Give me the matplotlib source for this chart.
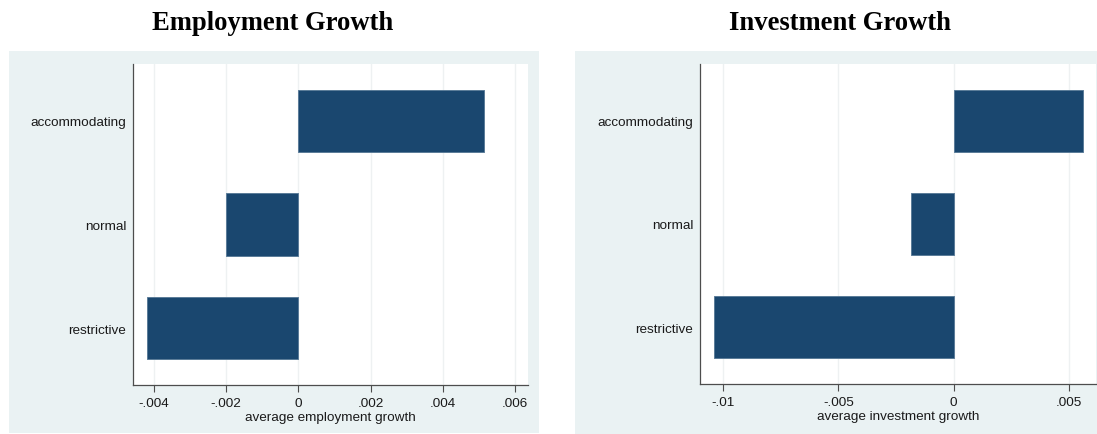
import matplotlib
matplotlib.use("Agg")
import matplotlib.pyplot as plt
from matplotlib.patches import Rectangle

categories = ["accommodating", "normal", "restrictive"]
employment_growth = [0.00514, -0.00201, -0.00419]
investment_growth = [0.00561, -0.00183, -0.01039]

emp_ticks = [-0.004, -0.002, 0, 0.002, 0.004, 0.006]
emp_ticklabels = ["-.004", "-.002", "0", ".002", ".004", ".006"]
inv_ticks = [-0.01, -0.005, 0, 0.005]
inv_ticklabels = ["-.01", "-.005", "0", ".005"]

W, H = 1097, 435
fig = plt.figure(figsize=(W / 100, H / 100), dpi=100)
fig.patch.set_facecolor("white")

BG = "#eaf2f3"
BAR = "#1a476f"
EDGE = "#5b7c99"
GRID = "#eef1f2"
AXC = "#4d4d4d"

def px_rect(x0, y0, x1, y1):
    return [x0 / W, 1 - y1 / H, (x1 - x0) / W, (y1 - y0) / H]

for (x0, y0, x1, y1) in [(9, 52, 539, 434), (575, 52, 1097, 435)]:
    fig.patches.append(Rectangle((x0 / W, 1 - y1 / H), (x1 - x0) / W, (y1 - y0) / H,
                                 transform=fig.transFigure, facecolor=BG,
                                 edgecolor="none", zorder=-10))

ypos = [2, 1, 0]

def panel(rect, values, ticks, ticklabels, xlim, xlabel, title, title_x):
    ax = fig.add_axes(px_rect(*rect))
    ax.set_facecolor("white")
    ax.barh(ypos, values, height=0.6, color=BAR, edgecolor=EDGE, linewidth=0.7, zorder=3)
    ax.set_xlim(*xlim)
    ax.set_ylim(-0.55, 2.55)
    ax.set_xticks(ticks)
    ax.set_xticklabels(ticklabels, fontsize=9.7, family="Liberation Sans", color="#1a1a1a")
    ax.set_yticks(ypos)
    ax.set_yticklabels(categories, fontsize=9.7, family="Liberation Sans", color="#1a1a1a")
    ax.tick_params(axis="y", length=0, pad=5)
    ax.tick_params(axis="x", length=5, width=0.8, color=AXC, pad=4)
    ax.grid(axis="x", color=GRID, linewidth=1.0, zorder=0)
    ax.set_axisbelow(True)
    for s in ["top", "right"]:
        ax.spines[s].set_visible(False)
    for s in ["left", "bottom"]:
        ax.spines[s].set_color(AXC)
        ax.spines[s].set_linewidth(0.9)
    ax.set_xlabel(xlabel, fontsize=9.7, family="Liberation Sans", color="#1a1a1a", labelpad=1)
    fig.text(title_x / W, 1 - 24 / H, title, ha="center", va="center",
             fontsize=19.2, fontweight="bold", family="Liberation Serif")
    return ax

panel((133, 65, 528, 386), employment_growth, emp_ticks, emp_ticklabels,
      (-0.00458, 0.00636), "average employment growth", "Employment Growth", 273)
panel((700, 65, 1096, 385), investment_growth, inv_ticks, inv_ticklabels,
      (-0.0110, 0.00617), "average investment growth", "Investment Growth", 840)

fig.savefig("out.png", dpi=100, facecolor="white")
